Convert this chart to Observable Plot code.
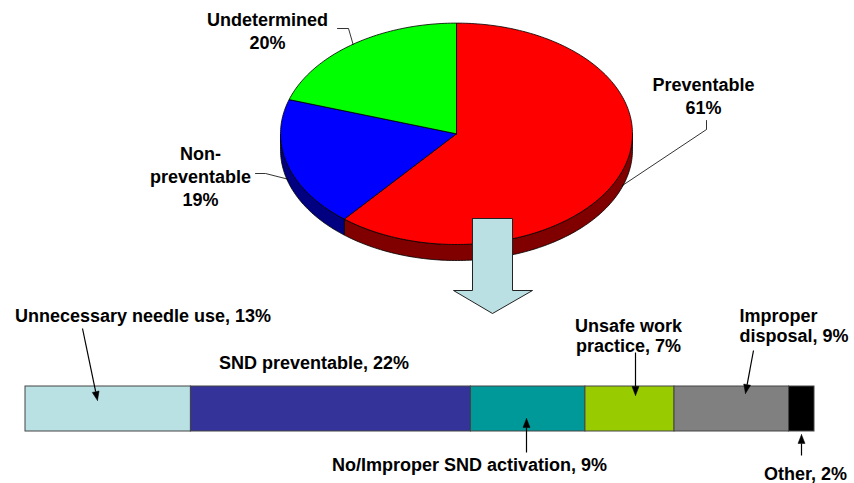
<!DOCTYPE html>
<html><head><meta charset="utf-8">
<script src="https://cdn.jsdelivr.net/npm/d3@7"></script>
<script src="https://cdn.jsdelivr.net/npm/@observablehq/plot@0.6"></script>
<style>body{margin:0;background:#fff;} #chart svg{display:block;}</style>
</head><body><div id="chart"></div>
<script>
// ---- data ----
const pieNames = ["Preventable", "Non-preventable", "Undetermined"];
const pieValues = [61, 19, 20];
const pieLabels = ["Preventable\n61%", "Non-\npreventable\n19%", "Undetermined\n20%"];
const pieColors = ["#FF0000", "#0000FF", "#00FF00"];
const pieSideColors = ["#800000", "#000080", "#008000"];

const barNames = ["Unnecessary needle use", "SND preventable", "No/Improper SND activation", "Unsafe work practice", "Improper disposal", "Other"];
const barValues = [13, 22, 9, 7, 9, 2];
const barLabels = ["Unnecessary needle use, 13%", "SND preventable, 22%", "No/Improper SND activation, 9%", "Unsafe work\npractice, 7%", "Improper\ndisposal, 9%", "Other, 2%"];
const barColors = ["#B9E0E3", "#333399", "#009999", "#99CC00", "#808080", "#000000"];

// ---- layout ----
const W = 854, H = 483;
const PIE = {cx: 456, cy: 133.3, rx: 176, ry: 110.7, depth: 16};
const BAR = {px0: 25, px1: 814, y1: 386, y2: 431};
const FONT = "'Liberation Sans', Arial, Helvetica, sans-serif";

const total = d3.sum(barValues);
const u = px => (px - BAR.px0) / (BAR.px1 - BAR.px0) * total; // pixel -> bar units

// ---- pie geometry from values ----
const pieTotal = d3.sum(pieValues);
const cum = d3.cumsum(pieValues);
const slices = pieValues.map((v, i) => ({
  i, a0: (cum[i] - v) / pieTotal * 2 * Math.PI, a1: cum[i] / pieTotal * 2 * Math.PI
}));
const pt = (a, dy = 0) => ({x: u(PIE.cx + PIE.rx * Math.sin(a)), y: PIE.cy - PIE.ry * Math.cos(a) + dy});
const arcPts = (a0, a1, dy = 0) => {
  const n = Math.max(2, Math.ceil((a1 - a0) / (Math.PI / 180)));
  return d3.range(n + 1).map(k => pt(a0 + (a1 - a0) * k / n, dy));
};
const topFaces = slices.map(s => {
  const c = {x: u(PIE.cx), y: PIE.cy};
  return [c, ...arcPts(s.a0, s.a1), c];
});
const sideFaces = slices.map(s => {
  const a = Math.max(s.a0, Math.PI / 2), b = Math.min(s.a1, 3 * Math.PI / 2);
  if (a >= b) return [];
  const top = arcPts(a, b), bot = arcPts(a, b, PIE.depth).reverse();
  return [...top, ...bot, top[0]];
});

// pie labels & leaders (layout positions)
const pieLabelPos = [{x: 703, y: 94.5}, {x: 200, y: 175}, {x: 267, y: 29.5}];
const leaderElbows = [[[706, 120], [706, 129]], [[255, 173], [265, 173]], [[337, 28], [348, 28]]];
const leaders = slices.flatMap(s => {
  const m = (s.a0 + s.a1) / 2;
  const front = Math.cos(m) < 0;
  const end = pt(m, front ? PIE.depth * 0.9 : 0);
  return [...leaderElbows[s.i].map(([x, y]) => ({id: s.i, x: u(x), y})), {id: s.i, ...end}];
});
const pieLabelTable = pieLabels.map((t, i) => ({text: t, x: u(pieLabelPos[i].x), y: pieLabelPos[i].y}));

// ---- bar table ----
const bcum = d3.cumsum(barValues);
const barTable = barValues.map((v, i) => ({name: barNames[i], x1: bcum[i] - v, x2: bcum[i], y1: BAR.y1, y2: BAR.y2, color: barColors[i]}));

const barLabelPos = [
  {x: 142.5, y: 315, anchor: "middle"},
  {x: 313.5, y: 362, anchor: "middle"},
  {x: 469, y: 464, anchor: "middle"},
  {x: 628, y: 335, anchor: "middle"},
  {x: 739, y: 325, anchor: "start"},
  {x: 805, y: 473, anchor: "middle"}
];
const barLabelTable = barLabels.map((t, i) => ({text: t, x: u(barLabelPos[i].x), y: barLabelPos[i].y, anchor: barLabelPos[i].anchor}));

// callout arrows (start px, tip px)
const callouts = [
  [[82, 328], [97, 400]],
  [[526, 452], [526, 418]],
  [[635, 352], [635, 395]],
  [[753, 350], [745, 393]],
  [[801, 455], [801, 434]]
];
const HEAD = 9, HW = 3.5;
const links = [], heads = [];
callouts.forEach(([[sx, sy], [tx, ty]], k) => {
  const dx = tx - sx, dy = ty - sy, L = Math.hypot(dx, dy), ux = dx / L, uy = dy / L;
  const bx = tx - ux * HEAD, by = ty - uy * HEAD;
  links.push({x1: u(sx), y1: sy, x2: u(bx), y2: by});
  heads.push({id: k, x: u(tx), y: ty}, {id: k, x: u(bx - uy * HW), y: by + ux * HW}, {id: k, x: u(bx + uy * HW), y: by - ux * HW}, {id: k, x: u(tx), y: ty});
});

// big down arrow
const bigArrow = [[472, 218], [512, 218], [512, 290], [532, 290], [492, 313], [453, 290], [472, 290], [472, 218]].map(([x, y]) => ({x: u(x), y}));

const textOpts = {x: "x", y: "y", text: "text", fontSize: 18, fontWeight: "bold", fontFamily: FONT, lineHeight: 1.15, lineAnchor: "middle", fill: "#000"};

const marks = [];
sideFaces.forEach((pts, i) => { if (pts.length) marks.push(Plot.line(pts, {x: "x", y: "y", fill: pieSideColors[i], stroke: "#000", strokeWidth: 0.8, strokeLinejoin: "round"})); });
topFaces.forEach((pts, i) => marks.push(Plot.line(pts, {x: "x", y: "y", fill: pieColors[i], stroke: "#000", strokeWidth: 0.8, strokeLinejoin: "round"})));
marks.push(Plot.line(leaders, {x: "x", y: "y", z: "id", stroke: "#000", strokeWidth: 0.8}));
marks.push(Plot.text(pieLabelTable, {...textOpts, lineHeight: 1.28, ariaLabel: "pielabels"}));
marks.push(Plot.line(bigArrow, {x: "x", y: "y", fill: "#BBE0E3", stroke: "#222", strokeWidth: 1}));
marks.push(Plot.rect(barTable, {x1: "x1", x2: "x2", y1: "y1", y2: "y2", fill: "color", stroke: "#444", strokeWidth: 1}));
marks.push(Plot.link(links, {x1: "x1", y1: "y1", x2: "x2", y2: "y2", stroke: "#000", strokeWidth: 1.2}));
marks.push(Plot.line(heads, {x: "x", y: "y", z: "id", fill: "#000", stroke: "#000", strokeWidth: 0.5}));
marks.push(Plot.text(barLabelTable.filter(d => d.anchor === "middle"), {...textOpts, textAnchor: "middle"}));
marks.push(Plot.text(barLabelTable.filter(d => d.anchor === "start"), {...textOpts, textAnchor: "start"}));

const chart = Plot.plot({
  width: W, height: H, margin: 0,
  x: {domain: [0, total], range: [BAR.px0, BAR.px1], axis: null},
  y: {domain: [0, H], range: [0, H], axis: null},
  color: {type: "identity"},
  style: {background: "#fff", overflow: "visible"},
  marks
});
document.getElementById("chart").appendChild(chart);
d3.select(chart).selectAll("g[aria-label='pielabels'] text").style("letter-spacing", "0.8px");
</script>
</body></html>
